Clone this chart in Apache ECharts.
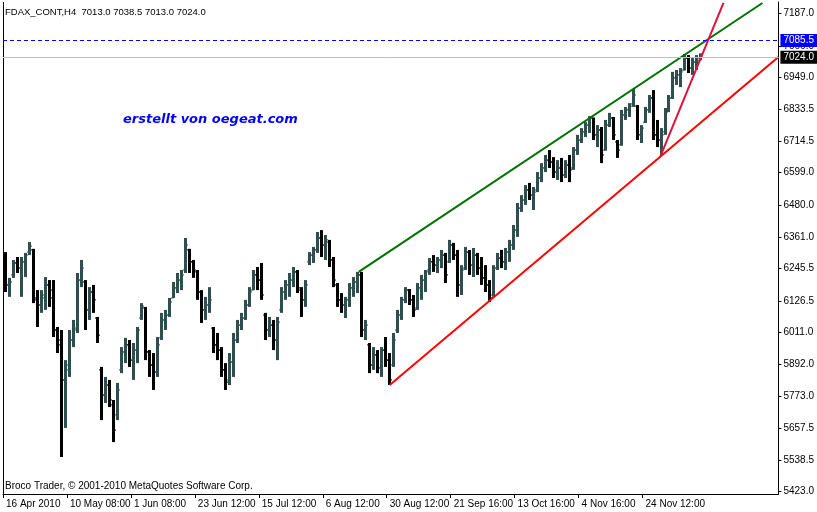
<!DOCTYPE html>
<html>
<head>
<meta charset="utf-8">
<script src="https://cdn.jsdelivr.net/npm/echarts@6/dist/echarts.min.js"></script>
<style>html,body{margin:0;padding:0;background:#fff}#c{width:817px;height:512px}</style>
</head>
<body>
<div id="c"></div>
<script>
// ---- data (prices; one entry ≈ one trading day = 4 H4 bars) ----
const headerText = 'FDAX_CONT,H4  7013.0 7038.5 7013.0 7024.0';
const watermarkText = 'erstellt von oegeat.com';
const copyrightText = 'Broco Trader, \u00a9 2001-2010 MetaQuotes Software Corp.';

const xTickLabels = ['16 Apr 2010','10 May 08:00','1 Jun 08:00','23 Jun 12:00','15 Jul 12:00','6 Aug 12:00','30 Aug 12:00','21 Sep 16:00','13 Oct 16:00','4 Nov 16:00','24 Nov 12:00'];
const xTickBars = [0,64,128,192,256,320,384,448,512,576,640];   // H4 bar index of each label
const yTickValues = [7187.0,7066.0,6949.0,6833.5,6714.5,6599.0,6480.0,6361.0,6245.5,6126.5,6011.0,5892.0,5773.0,5657.5,5538.5,5423.0];
const barsPerEntry = 4;

// [open, close, low, high]
const dailyBars = [
[6284,6185,6159,6306],[6185,6196,6141,6211],[6222,6266,6211,6277],[6266,6247,6229,6288],[6247,6270,6141,6288],
[6270,6295,6214,6303],[6306,6328,6295,6343],[6314,6137,6118,6318],[6130,6111,6030,6166],[6111,6148,6082,6166],
[6137,6185,6093,6214],[6185,6137,6104,6203],[6166,6019,5993,6203],[6019,5964,5934,6030],[5982,5835,5551,6019],
[5835,5890,5658,5908],[5872,5982,5846,6019],[5982,6019,5956,6056],[6026,6203,6008,6229],[6203,6247,6177,6277],
[6196,6093,6019,6203],[6093,6159,6056,6177],[6159,6130,6082,6185],[6063,6000,5971,6067],[5872,5779,5687,5883],
[5779,5816,5750,5846],[5816,5761,5735,5835],[5743,5650,5606,5761],[5706,5798,5687,5824],[5872,5938,5860,5956],
[5938,5964,5897,5990],[5964,5908,5883,5982],[5908,5945,5835,5971],[5945,6019,5897,6030],[6063,6107,6056,6118],
[6100,5938,5908,6104],[5938,5890,5846,5945],[5890,5864,5798,5934],[5864,5964,5846,5993],[5990,6056,5982,6082],
[6056,6074,6019,6093],[6074,6122,6067,6137],[6137,6174,6137,6196],[6174,6203,6155,6229],[6203,6222,6166,6240],
[6240,6332,6229,6358],[6314,6270,6229,6318],[6270,6240,6211,6277],[6233,6159,6130,6240],[6159,6093,6045,6166],
[6093,6111,6056,6141],[6111,6130,6082,6177],[6026,5964,5934,6030],[5964,5945,5908,6008],[5945,5872,5846,5956],
[5872,5827,5798,5897],[5835,5901,5816,5934],[5901,5982,5846,6008],[5982,6037,5971,6056],[6037,6063,6019,6082],
[6063,6111,6056,6130],[6111,6159,6104,6177],[6166,6222,6166,6240],[6222,6203,6166,6251],[6203,6148,6130,6266],
[6074,6019,5982,6082],[6019,6037,5993,6067],[6037,5982,5945,6056],[5982,6048,5908,6067],[6093,6159,6082,6177],
[6159,6185,6130,6203],[6185,6203,6141,6229],[6203,6233,6177,6251],[6233,6174,6155,6240],[6166,6130,6067,6177],
[6130,6185,6104,6203],[6270,6295,6258,6306],[6295,6314,6266,6325],[6314,6358,6303,6380],[6358,6332,6288,6387],
[6332,6351,6277,6369],[6343,6277,6251,6351],[6277,6203,6177,6288],[6185,6130,6104,6192],[6130,6111,6082,6155],
[6111,6130,6063,6141],[6130,6174,6104,6192],[6174,6196,6141,6214],[6196,6222,6155,6233],[6222,6019,5993,6233],
[6019,6037,5982,6056],[5964,5890,5860,5971],[5890,5927,5872,5956],[5927,5879,5860,5945],[5879,5945,5846,5956],
[5945,5908,5883,5993],[5908,5835,5816,5934],[5890,5982,5883,6008],[6019,6074,6008,6093],[6074,6130,6056,6141],
[6130,6166,6118,6177],[6166,6130,6111,6170],[6130,6093,6067,6148],[6100,6174,6093,6192],[6174,6203,6130,6222],
[6203,6233,6159,6240],[6240,6270,6222,6284],[6270,6258,6233,6295],[6258,6277,6229,6288],[6277,6295,6247,6314],
[6295,6222,6192,6303],[6270,6332,6266,6351],[6332,6295,6277,6340],[6295,6185,6141,6314],[6185,6240,6148,6258],
[6247,6306,6240,6325],[6306,6258,6222,6314],[6258,6295,6214,6321],[6295,6247,6222,6303],[6247,6211,6185,6288],
[6211,6185,6159,6258],[6185,6137,6122,6203],[6148,6247,6141,6258],[6247,6284,6240,6303],[6284,6270,6247,6314],
[6270,6306,6240,6321],[6306,6332,6270,6351],[6332,6387,6314,6406],[6387,6468,6362,6487],[6468,6498,6454,6516],
[6498,6535,6480,6553],[6535,6516,6498,6561],[6516,6527,6461,6546],[6535,6579,6527,6601],[6579,6616,6564,6634],
[6616,6645,6601,6664],[6645,6638,6616,6682],[6638,6601,6579,6656],[6601,6616,6572,6645],[6616,6590,6564,6653],
[6590,6627,6579,6645],[6627,6609,6564,6664],[6616,6682,6609,6693],[6682,6719,6664,6738],[6719,6749,6708,6763],
[6749,6774,6730,6785],[6774,6800,6745,6807],[6800,6738,6719,6802],[6738,6756,6693,6774],[6756,6664,6634,6767],
[6682,6774,6680,6793],[6774,6800,6767,6819],[6800,6738,6719,6804],[6712,6682,6653,6719],[6701,6811,6698,6830],
[6811,6830,6793,6841],[6830,6844,6804,6855],[6852,6885,6841,6907],[6844,6738,6719,6848],[6738,6763,6708,6774],
[6785,6830,6782,6841],[6830,6874,6819,6885],[6874,6738,6719,6903],[6738,6719,6693,6793],[6719,6738,6660,6763],
[6749,6822,6738,6837],[6830,6874,6822,6885],[6874,6948,6870,6970],[6948,6959,6922,6977],[6959,6970,6914,6984],
[6977,7021,6975,7036],[7021,6984,6966,7032],[6984,7006,6959,7021],[7006,7021,6977,7032],[7013,7024,7013,7038.5]
];

// trend lines: [H4 bar index, price]
const greenTrend   = [[356,6233],[760,7224]];
const redTrend     = [[387,5816],[776,7025]];
const crimsonTrend = [[658,6660],[721,7224]];
const askPrice = 7085.5;
const bidPrice = 7024.0;
const xMaxBars = 776;
const yMin = 5414.6, yMax = 7227.6;

// ---- chart ----
const FONT = 'Tahoma, "Liberation Sans", Arial, sans-serif';
const chart = echarts.init(document.getElementById('c'), null, {renderer: 'canvas'});

const barData = dailyBars.map((b, i) => [i * barsPerEntry + barsPerEntry / 2, b[0], b[1], b[2], b[3]]);

function renderBar(params, api) {
  const x = api.value(0), o = api.value(1), c = api.value(2), l = api.value(3), h = api.value(4);
  const pH = api.coord([x, h]), pL = api.coord([x, l]);
  const pO = api.coord([x, o]), pC = api.coord([x, c]);
  const col = c >= o ? '#2f4f4f' : '#000000';
  const cx = Math.round(pH[0]) + 0.5;
  return {
    type: 'group',
    children: [
      {type: 'line', shape: {x1: cx, y1: pH[1], x2: cx, y2: pL[1]}, style: {stroke: col, lineWidth: 3}},
      {type: 'line', shape: {x1: cx - 2.5, y1: pO[1], x2: cx, y2: pO[1]}, style: {stroke: col, lineWidth: 1}},
      {type: 'line', shape: {x1: cx, y1: pC[1], x2: cx + 2.5, y2: pC[1]}, style: {stroke: col, lineWidth: 1}}
    ]
  };
}

const option = {
  animation: false,
  backgroundColor: '#ffffff',
  textStyle: {fontFamily: FONT},
  title: [
    {text: headerText, left: 5, top: 7, padding: 0,
     textStyle: {fontSize: 9.5, fontWeight: 'normal', color: '#000', fontFamily: FONT}},
    {text: watermarkText, left: 123, top: 113, padding: 0,
     textStyle: {fontSize: 13, fontWeight: 'bold', fontStyle: 'italic', color: '#0000ff', fontFamily: '"DejaVu Sans", Verdana, sans-serif'}},
    {text: copyrightText, left: 5, top: 481, padding: 0,
     textStyle: {fontSize: 10, fontWeight: 'normal', color: '#000', fontFamily: FONT}}
  ],
  grid: {left: 3, right: 38, top: 2, bottom: 18, containLabel: false},
  xAxis: {
    type: 'value', min: 0, max: xMaxBars,
    splitLine: {show: false},
    axisLine: {show: true, onZero: false, lineStyle: {color: '#000', width: 1}},
    axisTick: {show: true, customValues: xTickBars, length: 4, lineStyle: {color: '#000'}},
    axisLabel: {
      customValues: xTickBars, color: '#000', fontSize: 10, fontFamily: FONT,
      align: 'left', margin: 5, padding: [0, 0, 0, 3], showMinLabel: true, showMaxLabel: true,
      formatter: v => { const i = xTickBars.indexOf(Math.round(v)); return i >= 0 ? xTickLabels[i] : ''; }
    }
  },
  yAxis: {
    type: 'value', position: 'right', min: yMin, max: yMax,
    splitLine: {show: false},
    axisLine: {show: true, onZero: false, lineStyle: {color: '#000', width: 1}},
    axisTick: {show: true, customValues: yTickValues, length: 3, lineStyle: {color: '#000'}},
    axisLabel: {customValues: yTickValues, color: '#000', fontSize: 10, fontFamily: FONT, margin: 5,
                formatter: v => Number(v).toFixed(1)}
  },
  series: [
    {
      type: 'line', data: [], silent: true,
      markLine: {
        silent: true, symbol: 'none', animation: false,
        data: [
          {xAxis: 0, lineStyle: {color: '#000', type: 'solid', width: 1}, label: {show: false}},
          {yAxis: bidPrice, lineStyle: {color: '#c0c0c0', type: 'solid', width: 1},
           label: {show: true, position: 'end', formatter: bidPrice.toFixed(1), distance: 2,
                   color: '#fff', backgroundColor: '#000', padding: [2, 3, 1, 3], fontSize: 10, fontFamily: FONT}},
          {yAxis: askPrice, lineStyle: {color: '#0000ff', type: [4, 3], width: 1},
           label: {show: true, position: 'end', formatter: askPrice.toFixed(1), distance: 2,
                   color: '#fff', backgroundColor: '#0000ff', padding: [2, 3, 1, 3], fontSize: 10, fontFamily: FONT}}
        ]
      },
      z: 1
    },
    {
      type: 'custom', name: 'FDAX', data: barData, renderItem: renderBar,
      encode: {x: 0, y: [1, 2, 3, 4]}, clip: true, z: 2
    },
    {type: 'line', data: greenTrend, showSymbol: false, symbol: 'none', lineStyle: {color: '#007000', width: 2}, z: 3, silent: true},
    {type: 'line', data: redTrend, showSymbol: false, symbol: 'none', lineStyle: {color: '#ff0000', width: 2}, z: 3, silent: true},
    {type: 'line', data: crimsonTrend, showSymbol: false, symbol: 'none', lineStyle: {color: '#dc143c', width: 2}, z: 3, silent: true}
  ]
};
chart.setOption(option);
</script>
</body>
</html>
